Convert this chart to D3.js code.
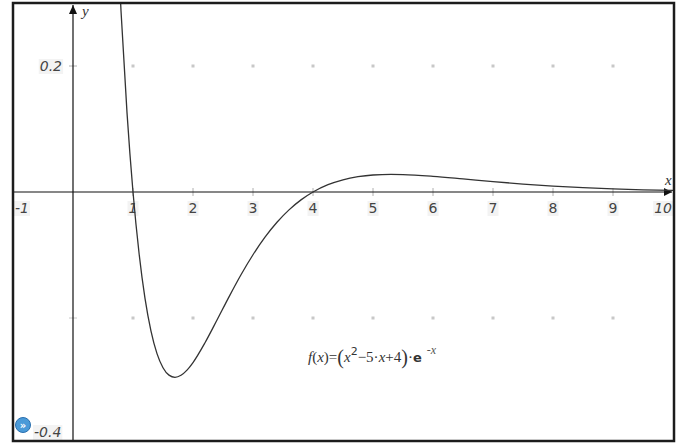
<!DOCTYPE html>
<html>
<head>
<meta charset="utf-8">
<script src="https://cdn.jsdelivr.net/npm/d3@7"></script>
<style>
  html, body { margin: 0; padding: 0; background: #fff; }
  svg { display: block; }
  .num { font-family: "DejaVu Sans", sans-serif; font-size: 14px; fill: #444; }
  .ital { font-style: italic; }
  .var { font-family: "Liberation Serif", serif; font-style: italic; font-size: 15px; fill: #333; }
</style>
</head>
<body>
<svg id="chart" width="682" height="443"></svg>
<script>
// f(x) = (x^2 - 5x + 4) * e^(-x), sampled values
const xValues = [0.7, 0.8, 0.9, 1.0, 1.1, 1.2, 1.3, 1.4, 1.5, 1.6, 1.7, 1.8, 1.9, 2.0,
  2.2, 2.4, 2.6, 2.8, 3.0, 3.2, 3.4, 3.6, 3.8, 4.0, 4.25, 4.5, 4.75, 5.0, 5.3, 5.5,
  6.0, 6.5, 7.0, 7.5, 8.0, 8.5, 9.0, 9.5, 10.0];
const yValues = [0.4916, 0.2876, 0.1260, 0, -0.0965, -0.1687, -0.2207, -0.2565, -0.2789,
  -0.2907, -0.2941, -0.2909, -0.2827, -0.2707, -0.2393, -0.2032, -0.1664, -0.1313,
  -0.0996, -0.0717, -0.0481, -0.0284, -0.0125, 0, 0.0116, 0.0194, 0.0243, 0.0270,
  0.0279, 0.0276, 0.0248, 0.0207, 0.0164, 0.0126, 0.0094, 0.0069, 0.0049, 0.0035, 0.0025];

const xTicks = [1, 2, 3, 4, 5, 6, 7, 8, 9];
const xTickLabels = ["1", "2", "3", "4", "5", "6", "7", "8", "9"];
const yGridValues = [0.2, -0.2];
const xDomain = [-1, 10];
const yDomain = [-0.4, 0.3];

const svg = d3.select("#chart");
const W = 682, H = 443;
const pL = 13, pR = 673, pT = 3, pB = 441;

const x = d3.scaleLinear().domain(xDomain).range([13, 673]);
const y = d3.scaleLinear().domain(yDomain).range([444, 3]);

svg.append("rect").attr("width", W).attr("height", H).attr("fill", "#fff");

svg.append("defs").append("clipPath").attr("id", "plotClip")
  .append("rect").attr("x", pL).attr("y", pT).attr("width", pR - pL).attr("height", pB - pT);

// grid dots
const dots = [];
yGridValues.forEach(v => xTicks.forEach(t => dots.push([t, v])));
svg.append("g").selectAll("rect").data(dots).join("rect")
  .attr("x", d => x(d[0]) - 1.5).attr("y", d => y(d[1]) - 1.5)
  .attr("width", 3).attr("height", 3).attr("fill", "#c8c8c8");

// small gray tick marks on the axes
svg.append("g").selectAll("line").data(xTicks).join("line")
  .attr("x1", d => x(d)).attr("x2", d => x(d))
  .attr("y1", y(0) - 4).attr("y2", y(0) + 4)
  .attr("stroke", "#b0b0b0").attr("stroke-width", 1);
svg.append("line").attr("x1", x(0) - 4).attr("x2", x(0) + 4)
  .attr("y1", y(0.2)).attr("y2", y(0.2)).attr("stroke", "#b0b0b0");
svg.append("line").attr("x1", x(0) - 4).attr("x2", x(0) + 4)
  .attr("y1", y(-0.2)).attr("y2", y(-0.2)).attr("stroke", "#c8c8c8");

// axes
const axisG = svg.append("g").attr("stroke", "#111").attr("stroke-width", 1.2);
axisG.append("line").attr("x1", pL).attr("x2", pR - 1).attr("y1", y(0)).attr("y2", y(0));
axisG.append("line").attr("x1", x(0)).attr("x2", x(0)).attr("y1", pB).attr("y2", pT + 2);
// arrowheads
svg.append("path")
  .attr("d", `M${pR - 9},${y(0) - 4} L${pR - 1},${y(0)} L${pR - 9},${y(0) + 4} Z`)
  .attr("fill", "#111");
svg.append("path")
  .attr("d", `M${x(0) - 4},${pT + 11} L${x(0)},${pT + 2} L${x(0) + 4},${pT + 11} Z`)
  .attr("fill", "#111");

// axis names
svg.append("text").attr("class", "var").attr("x", x(0) + 9).attr("y", 16).text("y");
svg.append("text").attr("class", "var").attr("x", pR - 8).attr("y", y(0) - 7).text("x");

// tick labels with faint backgrounds
function label(tx, ty, txt, italic, anchor) {
  const t = svg.append("text").attr("class", "num" + (italic ? " ital" : ""))
    .attr("x", tx).attr("y", ty).attr("text-anchor", anchor || "middle").text(txt);
  const b = t.node().getBBox();
  svg.insert("rect", function () { return t.node(); })
    .attr("x", b.x - 1).attr("y", b.y + 1).attr("width", b.width + 2).attr("height", b.height - 1)
    .attr("fill", "#f3f3f3");
  return t;
}
xTicks.forEach((t, i) => label(x(t), y(0) + 21, xTickLabels[i], t === 1));
label(x(10) - 1, y(0) + 21, "10", true, "end");
label(pL + 2, y(0) + 21, "-1", true, "start");
label(x(0) - 11, y(0.2) + 5, "0.2", true, "end");
label(34, 437, "-0.4", true, "start");

// curve
const pts = xValues.map((v, i) => [v, yValues[i]]);
const line = d3.line().x(d => x(d[0])).y(d => y(d[1])).curve(d3.curveMonotoneX);
svg.append("path").datum(pts).attr("clip-path", "url(#plotClip)")
  .attr("d", line).attr("fill", "none").attr("stroke", "#333").attr("stroke-width", 1.3);

// formula label
const f = svg.append("text").attr("class", "var").attr("x", 308).attr("y", 362).attr("font-size", 15);
f.append("tspan").text("f");
f.append("tspan").attr("font-style", "normal").text("(");
f.append("tspan").text("x");
f.append("tspan").attr("font-style", "normal").text(")=");
f.append("tspan").attr("font-style", "normal").attr("font-size", 20).attr("dy", 2).text("(");
f.append("tspan").attr("dy", -2).text("x");
f.append("tspan").attr("font-style", "normal").attr("font-family", "DejaVu Sans").attr("font-size", 11).attr("dy", -7).text("2");
f.append("tspan").attr("font-style", "normal").attr("dy", 7).text("−5·");
f.append("tspan").text("x");
f.append("tspan").attr("font-style", "normal").text("+4");
f.append("tspan").attr("font-style", "normal").attr("font-size", 20).attr("dy", 2).text(")");
f.append("tspan").attr("font-style", "normal").attr("dy", -2).text("·");
f.append("tspan").attr("font-style", "normal").attr("font-weight", "bold").attr("font-family", "DejaVu Sans").attr("font-size", 13).text("e");
f.append("tspan").attr("font-size", 12).attr("dy", -8).attr("dx", 2).attr("fill", "#555").text(" -x");

// frame
svg.append("rect").attr("x", pL).attr("y", pT).attr("width", pR - pL + 1).attr("height", pB - pT)
  .attr("fill", "none").attr("stroke", "#1c1c1c").attr("stroke-width", 2.5);

// small navigation badge
const badge = svg.append("g").attr("transform", "translate(23,425)");
badge.append("circle").attr("r", 7.5).attr("fill", "#4a9ad8").attr("stroke", "#2a6fae").attr("stroke-width", 1);
badge.append("text").attr("text-anchor", "middle").attr("y", 3.5).attr("font-family", "DejaVu Sans")
  .attr("font-size", 10).attr("font-weight", "bold").attr("fill", "#fff").text("»");
</script>
</body>
</html>
